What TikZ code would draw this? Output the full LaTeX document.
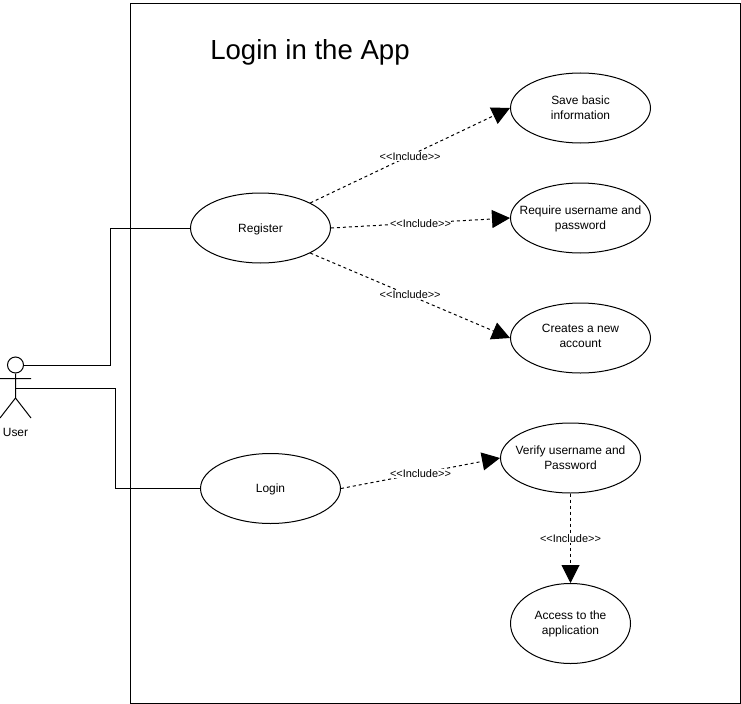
\documentclass[tikz,border=0pt]{standalone}
\usepackage{fontspec}
\setmainfont{Liberation Sans}
\usetikzlibrary{arrows.meta,shapes.geometric}
\tikzset{
  uc/.style={draw,ellipse,minimum width=140bp,minimum height=70bp,inner sep=0pt,line width=1bp},
  uctxt/.style={align=center,inner sep=0pt,font=\fontsize{12}{15}\selectfont},
  ln/.style={line width=1bp},
  inc/.style={line width=1bp,dash pattern=on 3bp off 3bp,-{Triangle[length=18bp,width=18bp]}},
  lab/.style={font=\fontsize{11}{13}\selectfont,fill=white,inner sep=0.5pt},
}
\begin{document}
\begin{tikzpicture}[x=1bp,y=-1bp]
\useasboundingbox (0,0) rectangle (741,704);
\node[draw,line width=1bp,minimum width=610bp,minimum height=700bp,inner sep=0pt] (sys) at (435.5,353.5) {};
\node[font=\fontsize{27.7}{33}\selectfont,anchor=center] (title) at (310,52.5) {Login in the App};
\node[uc,label={[uctxt,yshift=-1bp]center:Register}] (reg) at (260.5,228) {};
\node[uc,label={[uctxt,yshift=-1bp]center:Login}] (log) at (270.5,488.5) {};
\node[uc,label={[uctxt]center:Save basic\\information}] (save) at (580.5,108) {};
\node[uc,label={[uctxt,yshift=-0.5bp]center:Require username and\\password}] (req) at (580.5,218) {};
\node[uc,label={[uctxt,yshift=2.5bp]center:Creates a new\\account}] (cre) at (580.5,338) {};
\node[uc,label={[uctxt]center:Verify username and\\Password}] (ver) at (570.5,458) {};
\node[uc,minimum height=80bp,minimum width=120bp,label={[uctxt]center:Access to the\\application}] (acc) at (570.5,623.5) {};
% actor
\node[draw,circle,line width=1bp,minimum size=16bp,inner sep=0pt] (head) at (15.5,365) {};
\coordinate (hip) at (15.5,398);
\coordinate (armL) at (0,378.5);
\coordinate (armR) at (31,378.5);
\coordinate (legL) at (0,418);
\coordinate (legR) at (31,418);
\draw[ln] (head.south) -- (hip) (armL) -- (armR) (hip) -- (legL) (hip) -- (legR);
\node[font=\fontsize{12}{14}\selectfont] (user) at (15.5,432) {User};
% connectors
\coordinate (a1) at (head.east);
\coordinate (a2) at (15.5,388);
\draw[ln] (a1) -- (110,365) -- (110,228) -- (reg.west);
\draw[ln] (a2) -- (115.5,388) -- (115.5,488.5) -- (log.west);
\draw[inc] (reg.north east) -- (save.west) node[lab,midway,yshift=-1bp] {<{}<Include>{}>};
\draw[inc] (reg.east) -- (req.west) node[lab,midway,yshift=-1bp] {<{}<Include>{}>};
\draw[inc] (reg.south east) -- (cre.west) node[lab,midway,yshift=1bp] {<{}<Include>{}>};
\draw[inc] (log.east) -- (ver.west) node[lab,midway] {<{}<Include>{}>};
\draw[inc] (ver.south) -- (acc.north) node[lab,midway] {<{}<Include>{}>};
\end{tikzpicture}
\end{document}
